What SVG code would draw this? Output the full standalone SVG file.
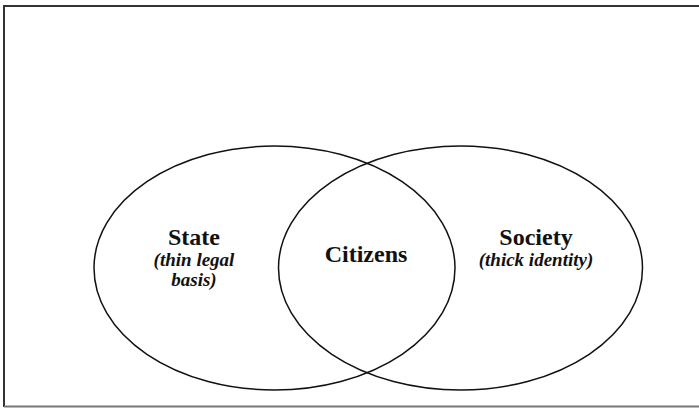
<svg xmlns="http://www.w3.org/2000/svg" width="699" height="408" viewBox="0 0 699 408">
<style>
.ell{fill:none;stroke:#111;stroke-width:1.5}
.t{fill:#111;text-anchor:middle}
.b{font-weight:bold;font-size:24px}
.i{font-weight:bold;font-style:italic;font-size:19px}
</style>
<rect width="699" height="408" fill="#fff"/>
<path d="M4 407 V6 H699" fill="none" stroke="#333" stroke-width="2"/>
<path d="M4 406.5 H699" stroke="#777" stroke-width="2"/>
<g id="connectors"></g>
<g id="state" font-family="'Liberation Serif', 'Times New Roman', 'DejaVu Serif', serif">
<ellipse class="ell" cx="274.5" cy="268" rx="180.5" ry="122"/>
<text class="t b" x="194" y="245">State</text>
<text class="t i" x="194" y="266">(thin legal</text>
<text class="t i" x="194" y="286">basis)</text>
</g>
<g id="society" font-family="'Liberation Serif', 'Times New Roman', 'DejaVu Serif', serif">
<ellipse class="ell" cx="460.5" cy="268" rx="182" ry="122"/>
<text class="t b" x="536" y="245">Society</text>
<text class="t i" x="536" y="266">(thick identity)</text>
</g>
<g id="citizens" font-family="'Liberation Serif', 'Times New Roman', 'DejaVu Serif', serif">
<text class="t b" x="366" y="262">Citizens</text>
</g>
</svg>
